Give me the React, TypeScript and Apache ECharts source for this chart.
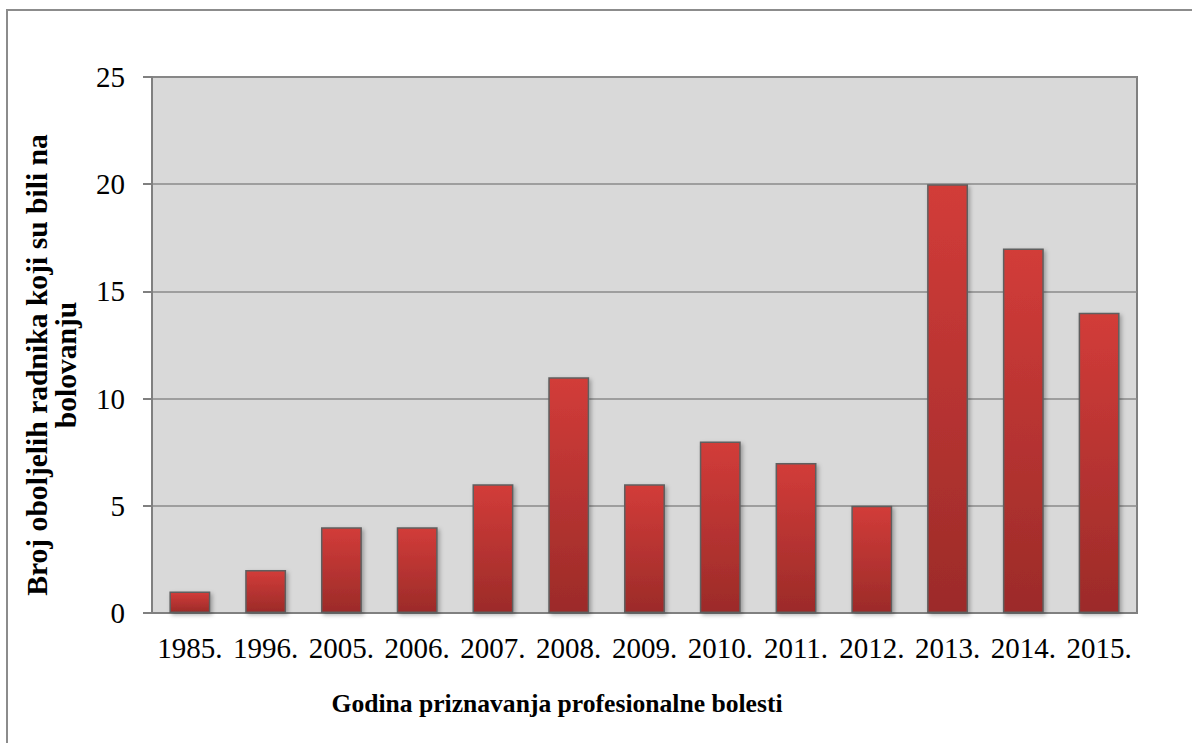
import React, { useEffect, useRef } from "react";
import * as echarts from "echarts";

const categories = ["1985.", "1996.", "2005.", "2006.", "2007.", "2008.", "2009.", "2010.", "2011.", "2012.", "2013.", "2014.", "2015."];
const values = [1, 2, 4, 4, 6, 11, 6, 8, 7, 5, 20, 17, 14];
const yTitleLine1 = "Broj oboljelih radnika koji su bili na";
const yTitleLine2 = "bolovanju";
const xTitle = "Godina priznavanja profesionalne bolesti";

export default function App() {
  const ref = useRef<HTMLDivElement>(null);
  useEffect(() => {
    if (!ref.current) return;
    const chart = echarts.init(ref.current, undefined, { renderer: "svg" });
    const font = "'Liberation Serif', 'Times New Roman', serif";
    chart.setOption({
      animation: false,
      backgroundColor: "#ffffff",
      grid: {
        left: 152,
        right: 55,
        top: 77,
        bottom: 130,
        show: true,
        backgroundColor: "#d9d9d9",
        borderColor: "#808080",
        borderWidth: 2,
      },
      xAxis: {
        type: "category",
        data: categories,
        axisLine: { show: true, lineStyle: { color: "#808080", width: 2 } },
        axisTick: { show: false },
        axisLabel: { color: "#000", fontFamily: font, fontSize: 29, margin: 20, interval: 0 },
      },
      yAxis: {
        type: "value",
        min: 0,
        max: 25,
        interval: 5,
        axisLine: { show: true, lineStyle: { color: "#808080", width: 2 } },
        axisTick: { show: true, length: 9, lineStyle: { color: "#808080", width: 2 } },
        splitLine: { show: true, lineStyle: { color: "#8a8a8a", width: 1.5 } },
        axisLabel: { color: "#000", fontFamily: font, fontSize: 29, margin: 27 },
      },
      series: [
        {
          type: "bar",
          data: values,
          barWidth: "54%",
          itemStyle: {
            color: new echarts.graphic.LinearGradient(0, 0, 0, 1, [
              { offset: 0, color: "#d23c39" },
              { offset: 1, color: "#9c2b29" },
            ]),
            borderColor: "#5f5f5f",
            borderWidth: 1.5,
            shadowColor: "rgba(0,0,0,0.3)",
            shadowBlur: 4,
            shadowOffsetX: 2,
            shadowOffsetY: 2,
          },
        },
      ],
      graphic: [
        {
          type: "rect",
          shape: { x: 7, y: 10, width: 1200, height: 800 },
          style: { fill: "none", stroke: "#8c8c8c", lineWidth: 2 },
          silent: true,
        },
        {
          type: "text",
          x: 51,
          y: 365,
          rotation: Math.PI / 2,
          style: {
            text: yTitleLine1 + "\n" + yTitleLine2,
            font: "bold 29.6px " + font,
            fill: "#000",
            align: "center",
            verticalAlign: "middle",
            lineHeight: 29,
          },
        },
        {
          type: "text",
          x: 557,
          y: 703,
          style: {
            text: xTitle,
            font: "bold 25.6px " + font,
            fill: "#000",
            align: "center",
            verticalAlign: "middle",
          },
        },
      ],
    });
    return () => chart.dispose();
  }, []);
  return <div ref={ref} style={{ position: "fixed", left: 0, top: 0, width: 1192, height: 743 }} />;
}
